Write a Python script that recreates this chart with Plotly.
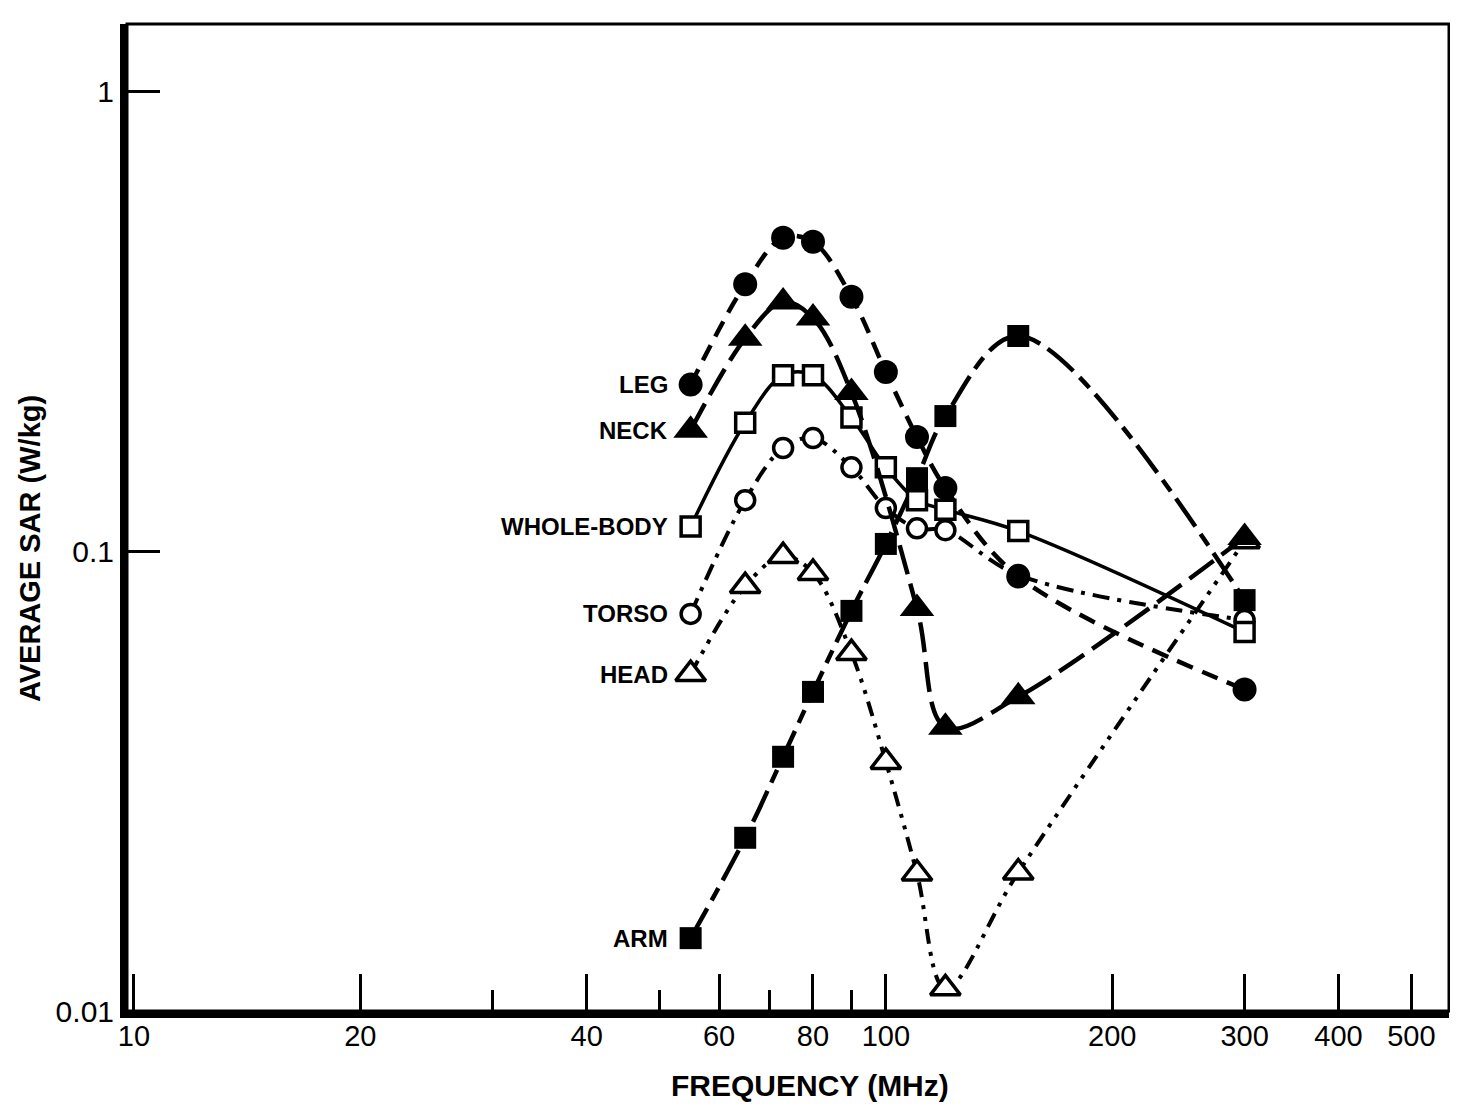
import numpy as np
import plotly.graph_objects as go

# Frequencies (MHz)
FREQ = [55, 65, 73, 80, 90, 100, 110, 120, 150, 300]
FREQ_NECK = [55, 65, 73, 80, 90, 110, 120, 150, 300]

# Average SAR (W/kg) per body region
LEG = [0.23, 0.38, 0.48, 0.47, 0.357, 0.245, 0.177, 0.137, 0.088, 0.050]
NECK = [0.183, 0.290, 0.348, 0.321, 0.221, 0.075, 0.0414, 0.0482, 0.107]
WHOLE_BODY = [0.113, 0.190, 0.241, 0.241, 0.195, 0.152, 0.129, 0.123, 0.1105, 0.0667]
TORSO = [0.073, 0.129, 0.1675, 0.176, 0.152, 0.124, 0.112, 0.111, 0.0887, 0.0708]
HEAD = [0.054, 0.0839, 0.0975, 0.0896, 0.060, 0.0348, 0.0199, 0.0112, 0.0200, 0.105]
ARM = [0.0144, 0.0238, 0.0357, 0.0494, 0.0741, 0.1036, 0.144, 0.1965, 0.2934, 0.0782]

X_TICKS = [10, 20, 40, 60, 80, 100, 200, 300, 400, 500]
X_MINOR = [30, 50, 70, 90]
Y_TICKS = [0.01, 0.1, 1]
Y_TICKTEXT = ["0.01", "0.1", "1"]

FONT = "Liberation Sans, Arial, Helvetica, sans-serif"

series = [
    # name, x, y, symbol, fill, size, dash, width
    ("ARM", FREQ, ARM, "square", "black", 22, "34px,9px,14px,9px", 4.5),
    ("HEAD", FREQ, HEAD, "triangle-up", "white", 26, "15px,8px,4px,8px,4px,8px", 4),
    ("TORSO", FREQ, TORSO, "circle", "white", 19, "17px,8px,4px,8px", 4),
    ("WHOLE-BODY", FREQ, WHOLE_BODY, "square", "white", 19, "solid", 3.5),
    ("NECK", FREQ_NECK, NECK, "triangle-up", "black", 30, "30px,10px", 4.5),
    ("LEG", FREQ, LEG, "circle", "black", 24, "17px,10px", 4.5),
]

fig = go.Figure()
for name, xs, ys, sym, fill, size, dash, width in series:
    fig.add_trace(go.Scatter(
        x=xs, y=ys, mode="lines+markers", name=name,
        line=dict(color="black", width=width, dash=dash, shape="spline", smoothing=1.0),
        marker=dict(symbol=sym, size=size, color=fill,
                    line=dict(color="black", width=3.5 if fill == "white" else 0)),
        showlegend=False,
    ))
    fig.add_annotation(
        x=np.log10(xs[0]), y=np.log10(ys[0]), xref="x", yref="y", text="<b>%s</b>" % name,
        showarrow=False, xanchor="right", yanchor="middle", xshift=-21,
        font=dict(family=FONT, size=24, color="black"),
    )

# axis titles
fig.add_annotation(x=0.5166, y=-0.075, xref="paper", yref="paper",
                   text="<b>FREQUENCY (MHz)</b>", showarrow=False,
                   xanchor="center", yanchor="middle",
                   font=dict(family=FONT, size=30, color="black"))
fig.add_annotation(x=-0.0734, y=0.469, xref="paper", yref="paper",
                   text="<b>AVERAGE SAR (W/kg)</b>", showarrow=False, textangle=-90,
                   xanchor="center", yanchor="middle",
                   font=dict(family=FONT, size=29, color="black"))

fig.update_layout(
    width=1442, height=1094,
    margin=dict(l=119, r=1, t=16, b=91),
    paper_bgcolor="white", plot_bgcolor="white",
    font=dict(family=FONT, color="black", size=22),
    xaxis=dict(
        type="log", range=[0.9907, 2.749],
        tickvals=X_TICKS, ticktext=[str(v) for v in X_TICKS],
        ticks="inside", ticklen=37, tickwidth=3, tickcolor="black",
        minor=dict(tickvals=X_MINOR, ticks="inside", ticklen=21, tickwidth=3, tickcolor="black", showgrid=False),
        showgrid=False, zeroline=False,
        showline=True, linewidth=7, linecolor="black",
        tickfont=dict(family=FONT, size=29, color="black"),
        ticklabelstandoff=-7,
    ),
    yaxis=dict(
        type="log", range=[-2, 0.1457],
        tickvals=Y_TICKS, ticktext=Y_TICKTEXT,
        ticks="inside", ticklen=33, tickwidth=2.5, tickcolor="black",
        showgrid=False, zeroline=False,
        showline=True, linewidth=7, linecolor="black",
        tickfont=dict(family=FONT, size=30, color="black"),
    ),
)

# frame (top/right thinner border)
fig.add_shape(type="rect", xref="paper", yref="paper", x0=0, x1=1, y0=0, y1=1,
              line=dict(color="black", width=3), layer="above")

fig.write_html("out.html")
